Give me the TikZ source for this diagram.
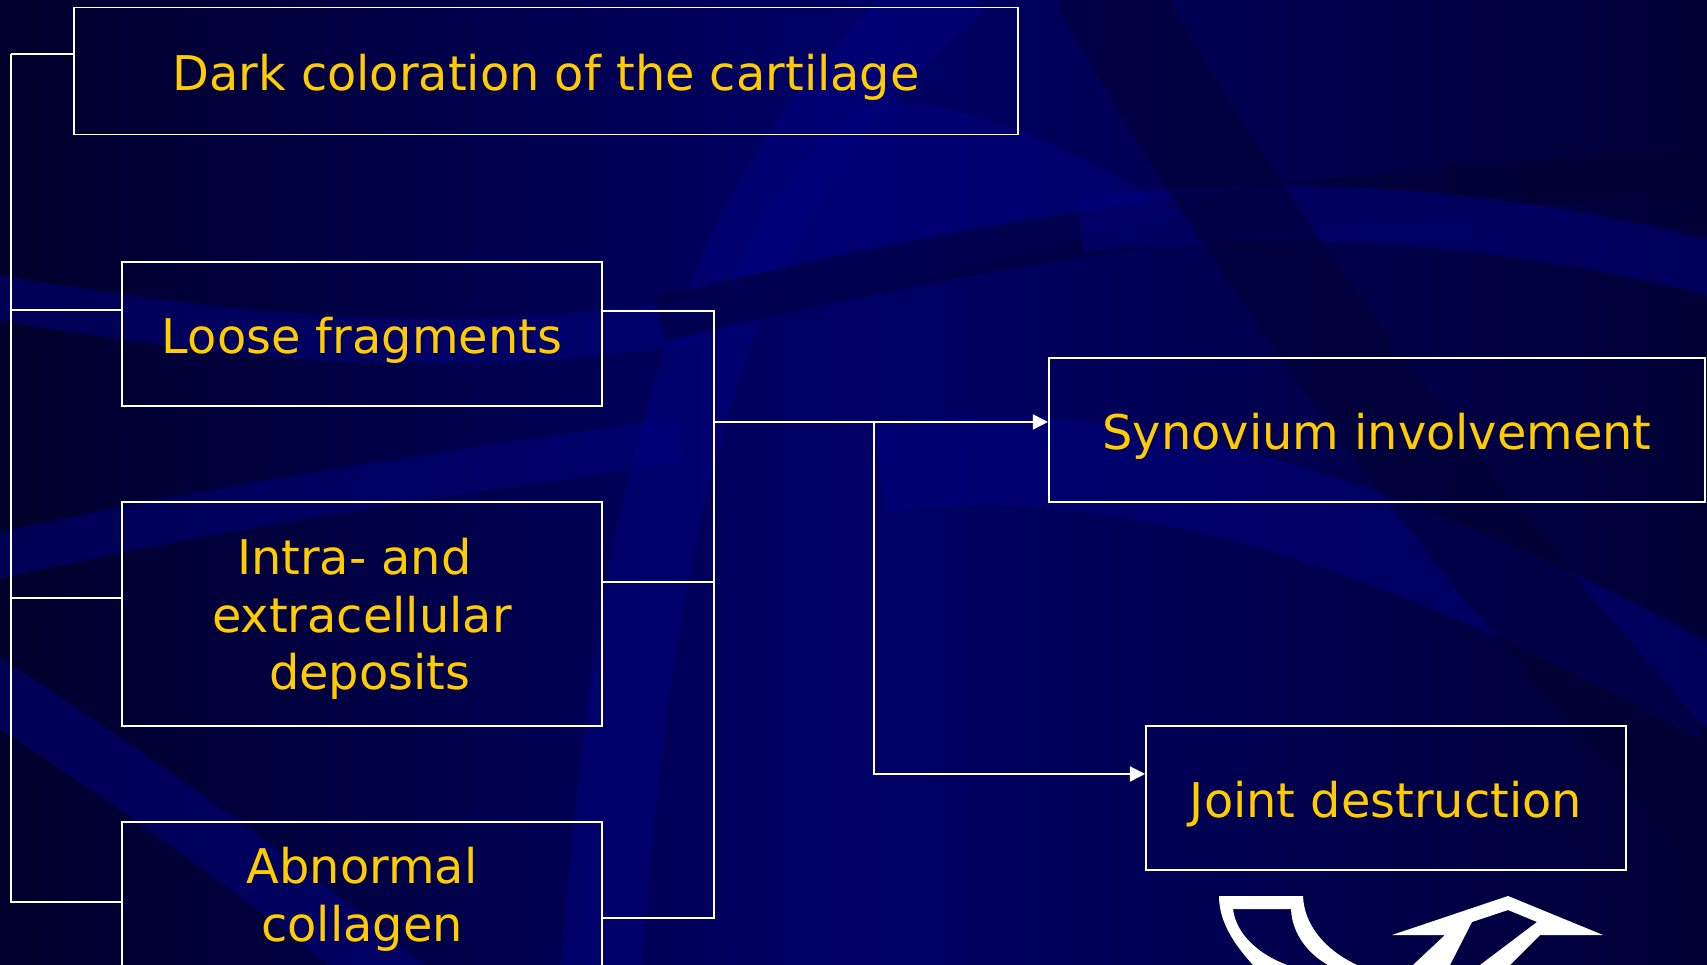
\documentclass[tikz,border=0pt]{standalone}
\usepackage{fontspec}
\setmainfont{DejaVu Sans}
\usetikzlibrary{positioning, arrows.meta}

\definecolor{bgdark}{HTML}{00002B}
\definecolor{bgblue}{HTML}{000066}
\definecolor{bgright}{HTML}{000036}
\definecolor{swooshlight}{HTML}{000080}
\definecolor{swooshdark}{HTML}{000030}
\definecolor{txtyellow}{HTML}{FFCC00}

\begin{document}
\begin{tikzpicture}[>={Triangle[length=0.15cm, width=0.15cm]}, x=0.01cm, y=-0.01cm,
  box/.style={draw=white, line width=0.5pt, text=txtyellow, align=center,
    inner sep=0pt, font=\fontsize{13.6}{16.4}\selectfont,
    execute at begin node={\rule{0pt}{0.48cm}}},
  wire/.style={draw=white, line width=0.5pt},
  lightband/.style={swooshlight, opacity=0.5},
  darkband/.style={swooshdark, opacity=0.5}]

% --- Background ---
\shade[left color=bgdark, right color=bgright, middle color=bgblue]
  (0,0) rectangle (1707,965);
\useasboundingbox (0,0) rectangle (1707,965);

\begin{scope}
  \clip (0,0) rectangle (1707,965);
  % swooshes
  \fill[lightband] (880,100) .. controls (780,160) and (730,260) .. (720,330)
    -- (1180,215) .. controls (1080,150) and (980,105) .. (880,100) -- cycle;
  \draw[lightband, line width=0.8cm] (960,-20) .. controls (720,180) and (640,450) .. (600,980);
  \draw[lightband, line width=0.45cm] (-20,295) .. controls (200,330) and (420,365) .. (700,320);
  \draw[darkband, line width=0.45cm] (660,320) .. controls (900,260) and (1200,200) .. (1720,170);
  \draw[lightband, line width=0.55cm] (1080,225) .. controls (1300,200) and (1500,215) .. (1720,270);
  \draw[lightband, line width=0.45cm] (-20,560) .. controls (200,510) and (400,480) .. (680,440);
  \draw[lightband, line width=0.6cm] (-20,680) .. controls (150,790) and (300,900) .. (420,1000);
  \draw[lightband, line width=0.9cm] (880,470) .. controls (1100,430) and (1400,520) .. (1720,700);
  \draw[darkband, line width=1cm] (1100,-20) .. controls (1250,250) and (1450,520) .. (1720,820);

  % curved arrow, lower right
  \fill[white, even odd rule]
    (1219,896) -- (1303,896) .. controls (1304,925) and (1325,950) .. (1357,965)
    -- (1372,990) -- (1388,990) -- (1413,965) -- (1445,935) -- (1392,935) -- (1508,896)
    -- (1603,935) -- (1540,935) -- (1510,965) -- (1500,1010) -- (1245,1010) -- (1253,965)
    .. controls (1232,942) and (1219,920) .. (1219,896) -- cycle
    (1233,909) -- (1291,909) .. controls (1292,935) and (1310,955) .. (1328,965)
    -- (1338,1000) -- (1442,1000) -- (1450,965) -- (1472,922) -- (1508,910) -- (1537,922)
    -- (1480,965) -- (1472,990) -- (1296,990) -- (1287,965)
    .. controls (1260,955) and (1236,935) .. (1233,909) -- cycle;
\end{scope}

% --- Findings (left) ---
\node[box, minimum width=9.44cm, minimum height=1.27cm] (dark) at (546,71)
  {Dark coloration of the cartilage};
\node[box, minimum width=4.8cm, minimum height=1.44cm] (loose) at (362,334)
  {Loose fragments};
\node[box, minimum width=4.8cm, minimum height=2.24cm, text depth=0pt] (dep) at (362,614)
  {Intra- and\hspace*{0.32em}\\extracellular\\\hspace*{0.32em}deposits};
\node[box, minimum width=4.8cm, minimum height=1.55cm] (abn) at (362,899.5)
  {Abnormal\\collagen};

% --- Consequences (right) ---
\node[box, minimum width=6.56cm, minimum height=1.44cm] (syn) at (1377,430)
  {Synovium involvement};
\node[box, minimum width=4.8cm, minimum height=1.44cm] (joint) at (1386,798)
  {Joint destruction};

% Left bracket
\coordinate (lbus) at (11,54);
\draw[wire] ([yshift=0.17cm]dark.west) -- (lbus);
\draw[wire] ([yshift=0.24cm]loose.west) -| (lbus);
\draw[wire] ([yshift=0.16cm]dep.west) -| (lbus);
\draw[wire] ([yshift=-0.025cm]abn.west) -| (lbus);

% Right bracket and arrows
\coordinate (rbus) at (714,422);
\coordinate (fork) at (874,422);
\draw[wire] ([yshift=0.23cm]loose.east) -| (rbus);
\draw[wire] ([yshift=0.32cm]dep.east) -| (rbus);
\draw[wire] ([yshift=-0.185cm]abn.east) -| (rbus);
\draw[wire, ->] (rbus) -- ([yshift=0.08cm]syn.west);
\draw[wire, ->] (fork) |- ([yshift=0.24cm]joint.west);

\end{tikzpicture}
\end{document}
